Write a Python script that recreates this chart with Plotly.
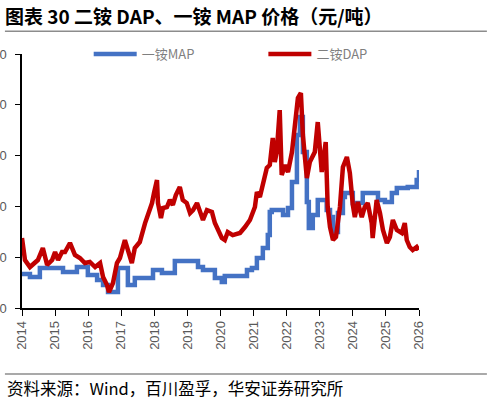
import plotly.graph_objects as go

# 一铵 MAP（元/吨），横轴为年份（小数）
map_year = [2014.00, 2014.24, 2014.54, 2015.24, 2015.66, 2015.99, 2016.27, 2016.45, 2016.60,
            2016.90, 2017.20, 2017.41, 2017.96, 2018.23, 2018.62, 2019.32, 2019.47, 2019.83,
            2020.04, 2020.13, 2020.80, 2020.95, 2021.10, 2021.28, 2021.43, 2021.49, 2021.55,
            2021.89, 2022.04, 2022.16, 2022.31, 2022.40, 2022.49, 2022.61, 2022.67, 2022.79,
            2022.94, 2023.21, 2023.31, 2023.40, 2023.55, 2023.70, 2023.76, 2024.00, 2024.30,
            2024.76, 2024.97, 2025.18, 2025.33, 2025.66, 2025.93, 2026.00]
map_price = [2335, 2305, 2394, 2354, 2403, 2325, 2276, 2226, 2157,
             2394, 2226, 2295, 2374, 2344, 2462, 2403, 2374, 2295,
             2256, 2315, 2374, 2394, 2492, 2590, 2718, 2945, 2964,
             2915, 2984, 3240, 3702, 3879, 3535, 3043, 2787, 2915,
             3063, 2964, 2895, 2748, 2935, 3092, 3132, 3033, 3132,
             3063, 3043, 3132, 3181, 3191, 3260, 3358]

# 二铵 DAP（元/吨）
dap_year = [2014.00, 2014.09, 2014.24, 2014.39, 2014.48, 2014.63, 2014.76, 2014.91, 2015.00,
            2015.09, 2015.21, 2015.30, 2015.45, 2015.60, 2015.75, 2015.90, 2016.05, 2016.21,
            2016.36, 2016.45, 2016.57, 2016.63, 2016.75, 2016.87, 2016.96, 2017.11, 2017.20,
            2017.32, 2017.41, 2017.56, 2017.72, 2017.81, 2017.93, 2017.99, 2018.08, 2018.11,
            2018.20, 2018.26, 2018.38, 2018.47, 2018.56, 2018.65, 2018.77, 2018.86, 2018.98,
            2019.08, 2019.17, 2019.29, 2019.38, 2019.47, 2019.59, 2019.74, 2019.83, 2019.92,
            2020.04, 2020.13, 2020.22, 2020.37, 2020.59, 2020.74, 2020.89, 2021.04, 2021.10,
            2021.19, 2021.28, 2021.40, 2021.49, 2021.58, 2021.64, 2021.70, 2021.79, 2021.85,
            2021.95, 2022.04, 2022.16, 2022.25, 2022.34, 2022.43, 2022.49, 2022.61, 2022.70,
            2022.85, 2022.94, 2023.06, 2023.18, 2023.24, 2023.31, 2023.40, 2023.49, 2023.61,
            2023.70, 2023.82, 2023.91, 2024.00, 2024.06, 2024.15, 2024.27, 2024.36, 2024.45,
            2024.57, 2024.60, 2024.72, 2024.82, 2024.91, 2025.03, 2025.12, 2025.21, 2025.33,
            2025.48, 2025.57, 2025.63, 2025.72, 2025.81, 2025.93, 2025.99]
dap_price = [2689, 2472, 2403, 2443, 2472, 2590, 2423, 2472, 2551,
             2472, 2551, 2551, 2640, 2522, 2492, 2443, 2453, 2403,
             2443, 2305, 2226, 2157, 2246, 2443, 2492, 2669, 2571,
             2443, 2590, 2649, 2836, 2915, 3033, 3132, 3260, 3033,
             2886, 2984, 2994, 3063, 3014, 3112, 3191, 3063, 3033,
             2935, 2964, 3033, 2935, 2866, 2964, 2945, 2836, 2768,
             2689, 2669, 2748, 2718, 2738, 2797, 2866, 2994, 3141,
             3092, 3230, 3378, 3407, 3673, 3437, 3535, 3948, 3309,
             3407, 3338, 3535, 3830, 4066, 4116, 3702, 3279, 3437,
             3535, 3830, 3338, 3633, 2994, 2797, 2669, 2699, 2994,
             3387, 3486, 3328, 3014, 2895, 3043, 2895, 2994, 3033,
             2836, 2689, 3063, 2935, 2768, 2640, 2699, 2866, 2768,
             2738, 2836, 2669, 2600, 2571, 2600, 2571]

year_ticks = list(range(2014, 2027))
price_ticks = [2000, 2500, 3000, 3500, 4000, 4500]

BLUE = "#4472C4"
RED = "#C00000"
FONT = "Liberation Sans, Noto Sans CJK SC, sans-serif"
CJK = "Noto Sans CJK SC, sans-serif"

fig = go.Figure()
fig.add_trace(go.Scatter(x=map_year, y=map_price, name="一铵MAP", mode="lines", legend="legend",
                         line=dict(color=BLUE, width=4.5, shape="hv")))
fig.add_trace(go.Scatter(x=dap_year, y=dap_price, name="二铵DAP", mode="lines", legend="legend2",
                         line=dict(color=RED, width=4.5)))

legend_style = dict(orientation="h", xanchor="left", y=1.0, yanchor="middle",
                    font=dict(family=CJK, size=13, color="#7f7f7f"),
                    bgcolor="rgba(0,0,0,0)", itemwidth=43)

fig.update_layout(
    width=491, height=406,
    margin=dict(l=22, r=72, t=54, b=98),
    paper_bgcolor="white", plot_bgcolor="white",
    font=dict(family=FONT, color="#595959", size=13),
    title=dict(text="<b>图表 30 二铵 DAP、一铵 MAP 价格（元/吨）</b>",
               x=5 / 491, xref="container", xanchor="left",
               y=1 - 17 / 406, yref="container", yanchor="middle",
               font=dict(family=CJK, size=19, color="black")),
    showlegend=True,
    legend=dict(x=0.168, **legend_style),
    legend2=dict(x=0.608, **legend_style),
)

fig.update_xaxes(range=[2014, 2026], tickvals=year_ticks, ticktext=[str(y) for y in year_ticks],
                 tickangle=-90, ticks="outside", ticklen=6, tickcolor="black", automargin=False,
                 showline=True, linecolor="black", linewidth=1.5, showgrid=False, zeroline=False,
                 tickfont=dict(size=13, color="#595959"))
fig.update_yaxes(range=[2000, 4500], tickvals=price_ticks, ticks="outside", ticklen=5,
                 tickcolor="black", ticklabelstandoff=6, automargin=False,
                 showline=True, linecolor="black", linewidth=1.5, showgrid=False, zeroline=False,
                 tickfont=dict(size=13, color="#595959"))

# 标题下方与来源上方的灰色分隔线
fig.add_shape(type="line", xref="paper", yref="paper", x0=-0.043, x1=1.171, y0=1.09, y1=1.09,
              line=dict(color="#8c8c8c", width=1.5))
fig.add_shape(type="line", xref="paper", yref="paper", x0=-0.043, x1=1.171, y0=-0.26, y1=-0.26,
              line=dict(color="#8c8c8c", width=1.5))
fig.add_annotation(text="资料来源：Wind，百川盈孚，华安证券研究所", xref="paper", yref="paper",
                   x=-0.043, y=-0.315, xanchor="left", yanchor="middle", showarrow=False,
                   font=dict(family=CJK, size=16.5, color="black"))

fig.write_html("out.html", config={"displayModeBar": False},
               post_script="document.body.style.margin='0';")
